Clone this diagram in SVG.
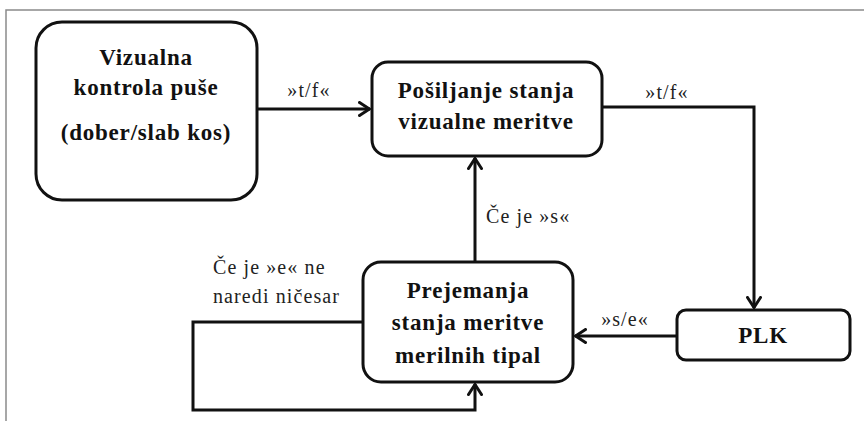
<svg xmlns="http://www.w3.org/2000/svg" width="864" height="421" viewBox="0 0 864 421">
<defs>
<style>
.node{fill:#fff;stroke:#111;stroke-width:3}
.t{font-family:"Liberation Serif","Times New Roman",serif;font-weight:bold;font-size:23px;fill:#111;text-anchor:middle;letter-spacing:0.8px}
.l{font-family:"Liberation Serif","Times New Roman",serif;font-size:20px;fill:#222;letter-spacing:1.1px}
.c{fill:none;stroke:#111;stroke-width:3;stroke-linejoin:miter}
</style>
<marker id="ah" viewBox="0 0 13 16" refX="12" refY="8" markerWidth="13" markerHeight="16" markerUnits="userSpaceOnUse" orient="auto">
<path d="M1.5,1.5 L11.5,8 L1.5,14.5" fill="none" stroke="#111" stroke-width="3" stroke-linecap="round" stroke-linejoin="miter"/>
</marker>
</defs>
<rect width="864" height="421" fill="#fff"/>
<path d="M6,421 V10 H864" fill="none" stroke="#8a8a8a" stroke-width="1.5"/>

<g id="connectors">
<path class="c" d="M257,109 H370" marker-end="url(#ah)"/>
<path class="c" d="M602,107 H754 V308" marker-end="url(#ah)"/>
<path class="c" d="M677,336 H575" marker-end="url(#ah)"/>
<path class="c" d="M475,262 V158" marker-end="url(#ah)"/>
<path class="c" d="M363,322 H193 V410 H475 V384" marker-end="url(#ah)"/>
<text class="l" x="309" y="97" text-anchor="middle">»t/f«</text>
<text class="l" x="667" y="99" text-anchor="middle">»t/f«</text>
<text class="l" x="625" y="326" text-anchor="middle">»s/e«</text>
<text class="l" x="486" y="223">Če je »s«</text>
<text class="l" x="213" y="274">Če je »e« ne</text>
<text class="l" x="213" y="303">naredi ničesar</text>
</g>

<g id="vizualna">
<rect class="node" x="36" y="22" width="221" height="178" rx="26"/>
<text class="t" x="146" y="65">Vizualna</text>
<text class="t" x="146" y="95">kontrola puše</text>
<text class="t" x="146" y="140">(dober/slab kos)</text>
</g>

<g id="posiljanje">
<rect class="node" x="372" y="62" width="230" height="94" rx="16"/>
<text class="t" x="486" y="98">Pošiljanje stanja</text>
<text class="t" x="486" y="129">vizualne meritve</text>
</g>

<g id="plk">
<rect class="node" x="677" y="310" width="173" height="50" rx="9"/>
<text class="t" x="763" y="343">PLK</text>
</g>

<g id="prejemanja">
<rect class="node" x="363" y="262" width="210" height="120" rx="18"/>
<text class="t" x="468" y="298">Prejemanja</text>
<text class="t" x="468" y="330">stanja meritve</text>
<text class="t" x="468" y="363">merilnih tipal</text>
</g>
</svg>
